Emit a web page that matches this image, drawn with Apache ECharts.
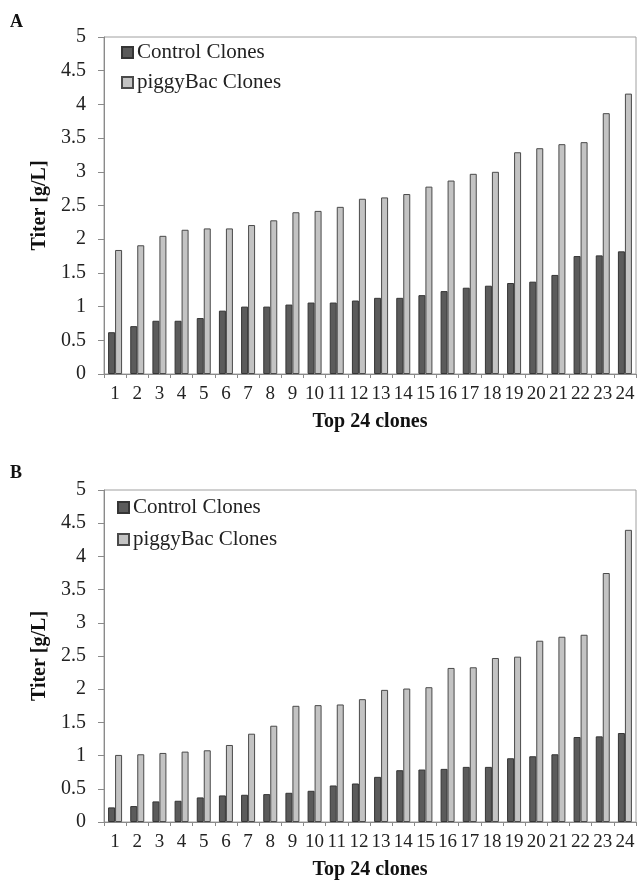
<!DOCTYPE html>
<html>
<head>
<meta charset="utf-8">
<script src="https://cdn.jsdelivr.net/npm/echarts@6/dist/echarts.min.js"></script>
<style>
html,body{margin:0;padding:0;background:#fff;}
#chart{width:638px;height:881px;}
</style>
</head>
<body>
<div id="chart"></div>
<script>
const categories = ['1','2','3','4','5','6','7','8','9','10','11','12','13','14','15','16','17','18','19','20','21','22','23','24'];
const controlA = [0.62,0.71,0.79,0.79,0.83,0.94,1.00,1.00,1.03,1.06,1.06,1.09,1.13,1.13,1.17,1.23,1.28,1.31,1.35,1.37,1.47,1.75,1.76,1.82];
const piggyA   = [1.84,1.91,2.05,2.14,2.16,2.16,2.21,2.28,2.40,2.42,2.48,2.60,2.62,2.67,2.78,2.87,2.97,3.00,3.29,3.35,3.41,3.44,3.87,4.16];
const controlB = [0.22,0.24,0.31,0.32,0.37,0.40,0.41,0.42,0.44,0.47,0.55,0.58,0.68,0.78,0.79,0.80,0.83,0.83,0.96,0.99,1.02,1.28,1.29,1.34];
const piggyB   = [1.01,1.02,1.04,1.06,1.08,1.16,1.33,1.45,1.75,1.76,1.77,1.85,1.99,2.01,2.03,2.32,2.33,2.47,2.49,2.73,2.79,2.82,3.75,4.40];
const panelLabels = ['A','B'];
const seriesNames = ['Control Clones','piggyBac Clones'];
const yTitle = 'Titer [g/L]';
const xTitle = 'Top 24 clones';

const FONT = 'Liberation Serif';
const chart = echarts.init(document.getElementById('chart'));

const ctrlStyle = {color:'#5b5b5b', borderColor:'#353535', borderWidth:1};
const pigStyle  = {color:'#c3c3c3', borderColor:'#4a4a4a', borderWidth:1};

const grids = [
  {left:104, top:37, width:532, height:337},
  {left:104, top:490, width:532, height:336}
];
function xAx(i){
  return {
    type:'category', gridIndex:i, data:categories,
    name:xTitle, nameLocation:'middle', nameGap:38,
    nameTextStyle:{fontFamily:FONT, fontWeight:'bold', fontSize:20, color:'#111'},
    axisLine:{lineStyle:{color:'#8a8a8a'}},
    axisTick:{show:true, length:4, lineStyle:{color:'#8a8a8a'}},
    axisLabel:{interval:0, fontFamily:FONT, fontSize:19, color:'#222', margin:11}
  };
}
function yAx(i){
  return {
    type:'value', gridIndex:i, min:0, max:5, interval:0.5,
    name:yTitle, nameLocation:'middle', nameGap:53, nameRotate:90,
    nameTextStyle:{fontFamily:FONT, fontWeight:'bold', fontSize:20, color:'#111'},
    axisLine:{show:true, lineStyle:{color:'#8a8a8a'}},
    axisTick:{show:true, length:6, lineStyle:{color:'#8a8a8a'}},
    splitLine:{show:false},
    axisLabel:{fontFamily:FONT, fontSize:20, color:'#222', margin:18}
  };
}
function legend(name, left, top){
  return {
    data:[name], left:left, top:top, padding:0, orient:'vertical',
    icon:'rect', itemWidth:11, itemHeight:11, itemGap:0,
    selectedMode:false,
    textStyle:{fontFamily:FONT, fontSize:21, color:'#222', padding:[0,0,0,-1]}
  };
}

chart.setOption({
  animation:false,
  backgroundColor:'#fff',
  title:[
    {text:panelLabels[0], left:10, top:13, padding:0, textStyle:{fontFamily:FONT, fontWeight:'bold', fontSize:18, color:'#111'}},
    {text:panelLabels[1], left:10, top:464, padding:0, textStyle:{fontFamily:FONT, fontWeight:'bold', fontSize:18, color:'#111'}}
  ],
  grid: grids.map(g => Object.assign({show:true, borderColor:'#a0a0a0', borderWidth:1, backgroundColor:'transparent'}, g)),
  legend:[
    legend(seriesNames[0],121,42),
    legend(seriesNames[1],121,72),
    legend(seriesNames[0],117,497),
    legend(seriesNames[1],117,529)
  ],
  xAxis:[xAx(0), xAx(1)],
  yAxis:[yAx(0), yAx(1)],
  series:[
    {type:'bar', name:seriesNames[0], xAxisIndex:0, yAxisIndex:0, data:controlA, barWidth:7, barGap:'0%', itemStyle:ctrlStyle},
    {type:'bar', name:seriesNames[1], xAxisIndex:0, yAxisIndex:0, data:piggyA, barWidth:7, barGap:'0%', itemStyle:pigStyle},
    {type:'bar', name:seriesNames[0], xAxisIndex:1, yAxisIndex:1, data:controlB, barWidth:7, barGap:'0%', itemStyle:ctrlStyle},
    {type:'bar', name:seriesNames[1], xAxisIndex:1, yAxisIndex:1, data:piggyB, barWidth:7, barGap:'0%', itemStyle:pigStyle}
  ]
});
</script>
</body>
</html>
